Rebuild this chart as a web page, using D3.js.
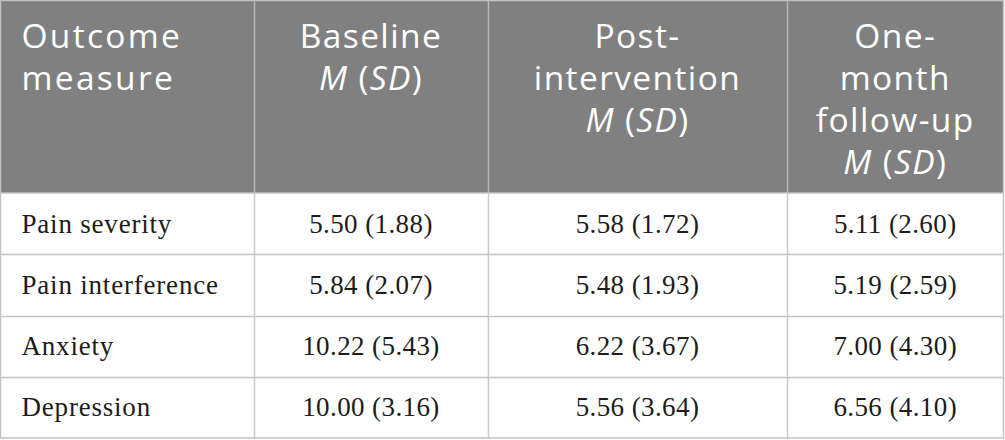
<!DOCTYPE html>
<html>
<head>
<meta charset="utf-8">
<script src="https://cdn.jsdelivr.net/npm/d3@7"></script>
<style>
    body { margin: 0; background: #fff; }
    svg { display: block; }
</style>
</head>
<body>
<div id="table-area"><svg id="table-svg"></svg></div>
<script>
// rows / columns
const measures = ["Pain severity", "Pain interference", "Anxiety", "Depression"];
const headerLines = [
    ["Outcome", "measure"],
    ["Baseline", "M (SD)"],
    ["Post-", "intervention", "M (SD)"],
    ["One-", "month", "follow-up", "M (SD)"]
];

// M and SD per time point
const baselineM = [5.50, 5.84, 10.22, 10.00];
const baselineSD = [1.88, 2.07, 5.43, 3.16];
const postM = [5.58, 5.48, 6.22, 5.56];
const postSD = [1.72, 1.93, 3.67, 3.64];
const followM = [5.11, 5.19, 7.00, 6.56];
const followSD = [2.60, 2.59, 4.30, 4.10];

class TableVis {
    constructor(_parentElement) {
        this.parentElement = _parentElement;
        this.columns = [
            {m: baselineM, sd: baselineSD},
            {m: postM, sd: postSD},
            {m: followM, sd: followSD}
        ];
        this.headerColor = "#808080";
        this.lineColor = "#c2c2c2";
        this.initVis();
    }

    initVis() {
        const self = this;

        self.width = 1005;
        self.height = 440;
        self.headerHeight = 193;
        self.bottom = 438;
        self.colEdges = [0.5, 254, 488, 787, 1003.5];

        self.svg = d3.select("#table-svg")
            .attr("width", self.width)
            .attr("height", self.height)
            .append("g");

        // rows of the body
        self.yScale = d3.scaleBand()
            .domain(measures)
            .range([self.headerHeight, self.bottom]);

        // header background
        self.svg.append("rect")
            .attr("x", self.colEdges[0])
            .attr("y", 0.5)
            .attr("width", self.colEdges[4] - self.colEdges[0])
            .attr("height", self.headerHeight - 0.5)
            .style("fill", self.headerColor);

        // header text, top aligned
        headerLines.forEach((lines, ci) => {
            let left = ci === 0;
            let x = left ? self.colEdges[0] + 21 : (self.colEdges[ci] + self.colEdges[ci + 1]) / 2;
            let txt = self.svg.append("text")
                .attr("class", "head")
                .attr("text-anchor", left ? "start" : "middle")
                .style("font-family", "'Open Sans', sans-serif")
                .style("font-size", "33.5px")
                .style("letter-spacing", left ? "2.3px" : "1.4px")
                .style("fill", "white");
            lines.forEach((line, li) => {
                let t = txt.append("tspan")
                    .attr("x", x)
                    .attr("y", 48 + li * 42);
                if (line === "M (SD)") {
                    t.append("tspan").style("font-style", "italic").text("M");
                    t.append("tspan").text(" (");
                    t.append("tspan").style("font-style", "italic").text("SD");
                    t.append("tspan").text(")");
                } else {
                    t.text(line);
                }
            });
        });

        let fmt = d3.format(".2f");

        // body rows
        measures.forEach((name, ri) => {
            let y = self.yScale(name) + self.yScale.bandwidth() / 2 + 9;
            self.svg.append("text")
                .attr("x", self.colEdges[0] + 21)
                .attr("y", y)
                .attr("class", "cell label")
                .text(name);
            self.columns.forEach((col, ci) => {
                self.svg.append("text")
                    .attr("x", (self.colEdges[ci + 1] + self.colEdges[ci + 2]) / 2)
                    .attr("y", y)
                    .attr("class", "cell")
                    .attr("text-anchor", "middle")
                    .text(`${fmt(col.m[ri])} (${fmt(col.sd[ri])})`);
            });
        });

        self.svg.selectAll("text.cell")
            .style("font-family", "'Liberation Serif', 'Times New Roman', serif")
            .style("font-size", "27px")
            .style("letter-spacing", "0.4px")
            .style("fill", "#1c1c1c");
        self.svg.selectAll("text.label")
            .style("letter-spacing", "0.8px");

        // horizontal rules between body rows
        self.svg.selectAll("line.hrule")
            .data(measures.slice(1))
            .enter()
            .append("line")
            .attr("class", "hrule")
            .attr("x1", self.colEdges[0])
            .attr("x2", self.colEdges[4])
            .attr("y1", d => Math.round(self.yScale(d)) + 0.5)
            .attr("y2", d => Math.round(self.yScale(d)) + 0.5)
            .style("stroke", self.lineColor)
            .style("stroke-width", 1.5);

        // vertical rules
        self.svg.selectAll("line.vrule")
            .data(self.colEdges.slice(1, 4))
            .enter()
            .append("line")
            .attr("class", "vrule")
            .attr("x1", d => d + 0.5)
            .attr("x2", d => d + 0.5)
            .attr("y1", 0)
            .attr("y2", self.bottom)
            .style("stroke", self.lineColor)
            .style("stroke-width", 1.5)
            .style("opacity", 0.85);

        // outer border and header bottom
        self.svg.append("rect")
            .attr("x", self.colEdges[0])
            .attr("y", 0.5)
            .attr("width", self.colEdges[4] - self.colEdges[0])
            .attr("height", self.bottom - 0.5)
            .style("fill", "none")
            .style("stroke", self.lineColor)
            .style("stroke-width", 1.5);

        self.svg.append("line")
            .attr("x1", self.colEdges[0])
            .attr("x2", self.colEdges[4])
            .attr("y1", self.headerHeight)
            .attr("y2", self.headerHeight)
            .style("stroke", self.lineColor)
            .style("stroke-width", 1.5);
    }
}

new TableVis("table-area");
</script>
</body>
</html>
